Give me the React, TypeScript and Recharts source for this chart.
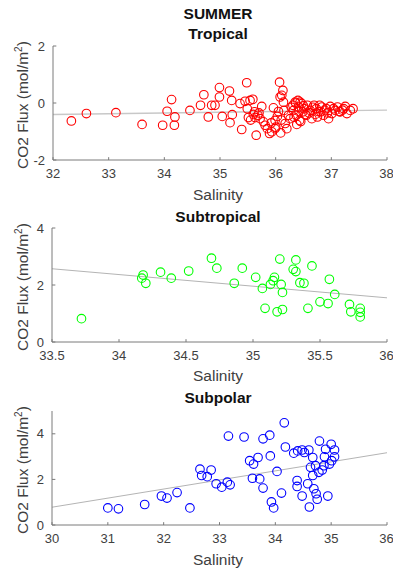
import { ReferenceLine, Scatter, ScatterChart, XAxis, YAxis } from "recharts";

// Tropical: salinity / CO2 flux
const tropSal = [
  32.33, 32.6, 33.13, 33.6, 33.97, 34.05, 34.13, 34.19, 34.18, 34.46, 34.65, 34.71, 34.79, 34.85, 34.91,
  34.99, 34.99, 35.04, 35.17, 35.21, 35.18, 35.22, 35.36, 35.39, 35.48, 35.45, 35.49, 35.51, 35.54, 35.59,
  35.62, 35.63, 35.65, 35.68, 35.72, 35.75, 35.78, 35.81, 35.89, 35.93, 35.96, 35.99, 35.99, 36.03, 36.07,
  36.08, 36.11, 36.09, 36.13, 36.14, 36.15, 36.17, 36.2, 36.23, 36.26, 36.31, 36.32, 36.35, 36.37, 36.38,
  36.4, 36.41, 36.43, 36.44, 36.47, 36.49, 36.51, 36.55, 36.57, 36.62, 36.65, 36.69, 36.73, 36.75, 36.79,
  36.81, 36.83, 36.86, 36.91, 36.95, 36.98, 37.01, 37.07, 37.11, 37.16, 37.22, 37.25, 37.28, 37.34, 37.39,
  35.55, 35.6, 35.7, 35.85, 35.92, 36.0, 36.05, 36.1, 36.28, 36.33, 36.36, 36.42, 36.45, 36.5, 36.53,
  36.6, 36.67, 36.71, 36.77, 36.88, 36.93, 37.04, 37.14, 37.2,
];
const tropFlux = [
  -0.63, -0.37, -0.34, -0.75, -0.78, -0.29, 0.12, -0.49, -0.78, -0.26, -0.08, 0.29, -0.49, -0.08, -0.08,
  0.54, 0.21, -0.47, 0.42, 0.09, -0.69, -0.41, -0.02, -0.93, 0.71, 0.06, -0.2, -0.51, 0.09, 0.13,
  -0.31, -0.51, -1.13, -0.43, -0.55, -0.12, -0.66, -0.78, -1.07, -1.01, -0.17, -0.61, -0.9, -0.47, 0.73,
  0.21, 0.27, -1.05, 0.44, 0.03, -0.26, -0.72, -0.9, -0.43, -0.55, -0.08, -0.26, 0.03, -0.43, -0.75,
  0.09, -0.14, -0.61, 0.03, -0.02, -0.31, -0.2, -0.43, -0.08, -0.26, -0.55, -0.08, -0.2, -0.49, -0.08,
  -0.31, -0.14, -0.43, -0.2, -0.55, -0.12, -0.37, -0.26, -0.14, -0.31, -0.2, -0.12, -0.37, -0.26, -0.2,
  -0.6, -0.4, -0.35, -0.9, -0.7, -0.85, -0.3, -0.6, -0.15, -0.5, 0.0, -0.3, -0.65, -0.1, -0.4,
  -0.35, -0.15, -0.4, -0.3, -0.25, -0.35, -0.2, -0.3, -0.25,
];

// Subtropical
const subtSal = [
  33.72, 34.17, 34.18, 34.2, 34.31, 34.39, 34.52, 34.69, 34.73, 34.86, 34.92, 35.02, 35.07, 35.09, 35.13,
  35.15, 35.16, 35.18, 35.2, 35.21, 35.22, 35.22, 35.32, 35.3, 35.32, 35.35, 35.38, 35.41, 35.44, 35.5,
  35.56, 35.57, 35.61, 35.72, 35.73, 35.8, 35.8, 35.8,
];
const subtFlux = [
  0.82, 2.24, 2.35, 2.06, 2.45, 2.24, 2.49, 2.94, 2.59, 2.06, 2.59, 2.27, 1.88, 1.18, 2.02,
  2.15, 2.27, 1.06, 2.91, 2.02, 1.74, 1.14, 2.88, 2.55, 2.47, 2.08, 2.06, 1.18, 2.67, 1.41,
  1.35, 2.2, 1.67, 1.32, 1.06, 1.18, 1.04, 0.88,
];

// Subpolar
const subpSal = [
  31.0, 31.19, 31.66, 31.96, 32.06, 32.24, 32.47, 32.65, 32.68, 32.78, 32.85, 32.94, 33.04, 33.14, 33.19,
  33.16, 33.44, 33.54, 33.61, 33.59, 33.69, 33.72, 33.78, 33.78, 33.9, 33.91, 33.93, 33.97, 34.03, 34.11,
  34.16, 34.18, 34.33, 34.4, 34.39, 34.39, 34.48, 34.52, 34.48, 34.6, 34.58, 34.61, 34.67, 34.63, 34.67,
  34.69, 34.72, 34.73, 34.75, 34.78, 34.79, 34.84, 34.87, 34.88, 34.9, 34.94, 34.97, 35.0, 35.01, 35.06,
  35.06,
];
const subpFlux = [
  0.75, 0.71, 0.9, 1.27, 1.18, 1.42, 0.75, 2.45, 2.17, 2.12, 2.41, 1.81, 1.66, 1.88, 1.76,
  3.9, 3.86, 2.82, 2.67, 2.05, 2.96, 2.02, 3.78, 1.62, 3.94, 3.03, 1.01, 0.75, 2.35, 1.4,
  4.48, 3.42, 3.15, 3.25, 1.95, 1.69, 3.29, 3.18, 1.27, 3.29, 1.81, 0.79, 2.96, 2.53, 2.17,
  1.59, 2.6, 1.37, 1.13, 2.31, 3.68, 2.41, 2.6, 2.99, 3.32, 1.27, 2.67, 3.54, 2.82, 3.29,
  2.99,
];

// linear fit end points (x0, y0, x1, y1)
const tropFit = [32, -0.4, 38, -0.25];
const subtFit = [33.5, 2.57, 36, 1.55];
const subpFit = [30, 0.78, 36, 3.17];

const tropXTicks = [32, 33, 34, 35, 36, 37, 38];
const subtXTicks = [33.5, 34, 34.5, 35, 35.5, 36];
const subpXTicks = [30, 31, 32, 33, 34, 35, 36];
const tropYTicks = [-2, 0, 2];
const subtYTicks = [0, 2, 4];
const subpYTicks = [0, 2, 4];

const FONT = '"Liberation Sans", Arial, sans-serif';
const AXIS = "#7a7a7a";
const TICKTEXT = "#404040";
const Y_W = 40;
const X_H = 30;

const toPoints = (xs: number[], ys: number[]) => xs.map((x, i) => ({ x, y: ys[i] }));

type PanelProps = {
  top: number;
  height: number;
  plotTop: number;
  plotBottom: number;
  plotLeft: number;
  xs: number[];
  ys: number[];
  color: string;
  fit: number[];
  fitColor: string;
  fitWidth: number;
  xTicks: number[];
  yTicks: number[];
  yDomain: [number, number];
};

function Panel(props: PanelProps) {
  const { top, height, plotTop, plotBottom, plotLeft, xs, ys, color, fit, fitColor, fitWidth, xTicks, yTicks, yDomain } = props;
  const data = toPoints(xs, ys);
  const margin = { top: plotTop, right: 6, bottom: height - plotBottom - X_H, left: plotLeft - Y_W };
  return (
    <div style={{ position: "absolute", left: 0, top }}>
      <ScatterChart width={393} height={height} margin={margin}>
        <XAxis
          type="number"
          dataKey="x"
          domain={[xTicks[0], xTicks[xTicks.length - 1]]}
          ticks={xTicks}
          height={X_H}
          stroke={AXIS}
          tickLine={false}
          tickMargin={3}
          tick={{ fill: TICKTEXT, fontSize: 13, fontFamily: FONT }}
          allowDataOverflow
        />
        <YAxis
          type="number"
          dataKey="y"
          domain={yDomain}
          ticks={yTicks}
          width={Y_W}
          stroke={AXIS}
          tickLine={false}
          tickMargin={2}
          tick={{ fill: TICKTEXT, fontSize: 13, fontFamily: FONT }}
          allowDataOverflow
        />
        {/* inward tick marks, MATLAB style */}
        {xTicks.map((t) => (
          <ReferenceLine
            key={"xt" + t}
            segment={[
              { x: t, y: yDomain[0] },
              { x: t, y: yDomain[0] + (yDomain[1] - yDomain[0]) * 0.025 },
            ]}
            stroke={AXIS}
            ifOverflow="visible"
          />
        ))}
        {yTicks.map((t) => (
          <ReferenceLine
            key={"yt" + t}
            segment={[
              { x: xTicks[0], y: t },
              { x: xTicks[0] + (xTicks[xTicks.length - 1] - xTicks[0]) * 0.01, y: t },
            ]}
            stroke={AXIS}
            ifOverflow="visible"
          />
        ))}
        <ReferenceLine
          segment={[
            { x: fit[0], y: fit[1] },
            { x: fit[2], y: fit[3] },
          ]}
          stroke={fitColor}
          strokeWidth={fitWidth}
          ifOverflow="visible"
        />
        <Scatter
          data={data}
          isAnimationActive={false}
          shape={(p: any) => <circle cx={p.cx} cy={p.cy} r={4.3} fill="none" stroke={color} strokeWidth={1.1} />}
        />
      </ScatterChart>
    </div>
  );
}

function Label({ text, x, y, bold }: { text: string; x: number; y: number; bold?: boolean }) {
  return (
    <div
      style={{
        position: "absolute",
        left: x - 100,
        top: y - 9,
        width: 200,
        textAlign: "center",
        fontFamily: FONT,
        fontSize: 15.5,
        lineHeight: "18px",
        fontWeight: bold ? 700 : 400,
        color: bold ? "#111" : "#404040",
      }}
    >
      {text}
    </div>
  );
}

function YLabel({ y }: { y: number }) {
  return (
    <div
      style={{
        position: "absolute",
        left: 21 - 100,
        top: y - 9,
        width: 200,
        textAlign: "center",
        fontFamily: FONT,
        fontSize: 15.5,
        lineHeight: "18px",
        color: "#404040",
        transform: "rotate(-90deg)",
        whiteSpace: "nowrap",
      }}
    >
      CO2 Flux (mol/m<sup style={{ fontSize: 10 }}>2</sup>)
    </div>
  );
}

export default function App() {
  return (
    <div style={{ position: "absolute", left: 0, top: 0, width: 393, height: 575, background: "#fff", overflow: "hidden" }}>
      <Panel
        top={0}
        height={190}
        plotTop={46}
        plotBottom={160}
        plotLeft={53}
        xs={tropSal}
        ys={tropFlux}
        color="#ff0000"
        fit={tropFit}
        fitColor="#c8c8c8"
        fitWidth={1.5}
        xTicks={tropXTicks}
        yTicks={tropYTicks}
        yDomain={[-2, 2]}
      />
      <Panel
        top={190}
        height={190}
        plotTop={38}
        plotBottom={152}
        plotLeft={52}
        xs={subtSal}
        ys={subtFlux}
        color="#00ff00"
        fit={subtFit}
        fitColor="#b4b4b4"
        fitWidth={1}
        xTicks={subtXTicks}
        yTicks={subtYTicks}
        yDomain={[0, 4]}
      />
      <Panel
        top={380}
        height={195}
        plotTop={31}
        plotBottom={145}
        plotLeft={52}
        xs={subpSal}
        ys={subpFlux}
        color="#0000ff"
        fit={subpFit}
        fitColor="#b4b4b4"
        fitWidth={1}
        xTicks={subpXTicks}
        yTicks={subpYTicks}
        yDomain={[0, 5]}
      />
      <Label text="SUMMER" x={218} y={14} bold />
      <Label text="Tropical" x={218} y={34} bold />
      <Label text="Salinity" x={218} y={195} />
      <Label text="Subtropical" x={218} y={217} bold />
      <Label text="Salinity" x={218} y={376} />
      <Label text="Subpolar" x={218} y={398} bold />
      <Label text="Salinity" x={218} y={560} />
      <YLabel y={103} />
      <YLabel y={285} />
      <YLabel y={468} />
    </div>
  );
}
